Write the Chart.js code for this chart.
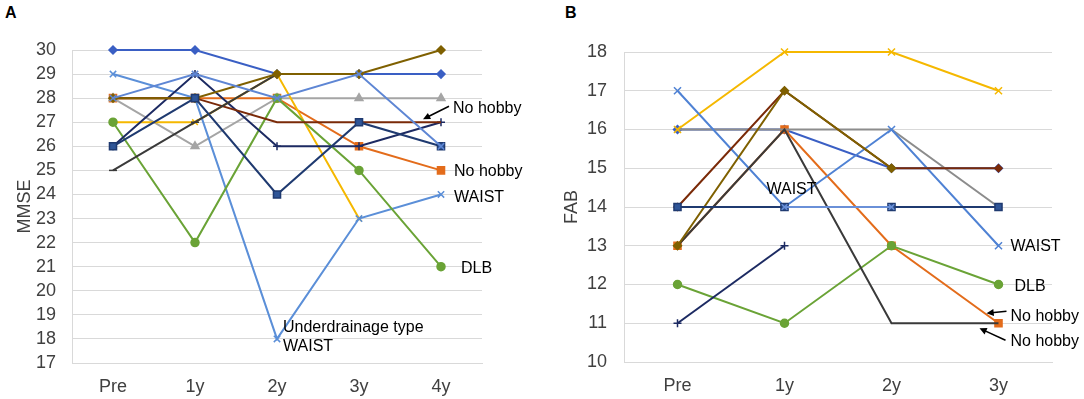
<!DOCTYPE html>
<html>
<head>
<meta charset="utf-8">
<script src="https://cdn.jsdelivr.net/npm/chart.js@4.4.1/dist/chart.umd.min.js"></script>
<style>
  body { margin: 0; background: #fff; }
  #wrap { position: relative; width: 1084px; height: 399px; font-family: 'Liberation Sans', Arial, sans-serif; }
  canvas { position: absolute; top: 0; }
  .tag { position: absolute; top: 4px; font-weight: bold; font-size: 16px; color: #000; }
</style>
</head>
<body>
<div id="wrap">
  <div class="tag" style="left:5px">A</div>
  <div class="tag" style="left:565px">B</div>
  <canvas id="mmse" width="540" height="399" style="left:0"></canvas>
  <canvas id="fab" width="544" height="399" style="left:540px"></canvas>
</div>
<script>
// panel A - MMSE
const mmseLabels = ['Pre', '1y', '2y', '3y', '4y'];
const mmseBlueDiamond = [30, 30, 29, 29, 29];
const mmseOrangeSquare = [28, 28, 28, 26, 25];
const mmseGrayTriangle = [28, 26, 28, 28, 28];
const mmseYellowX = [27, 27, 29, 23, null];
const mmseLightBlueX = [29, 28, 18, 23, 24];
const mmseGreenCircle = [27, 22, 28, 25, 21];
const mmseNavyPlus = [26, 29, 26, 26, 27];
const mmseBrown = [28, 28, 27, 27, 27];
const mmseDarkGray = [25, 27, 29, null, null];
const mmseOliveDiamond = [28, 28, 29, 29, 30];
const mmseDarkBlueSquare = [26, 28, 24, 27, 26];
const mmseBlueX = [28, 29, 28, 29, 26];
const mmseTicks = { min: 17, max: 30 };

// panel B - FAB
const fabLabels = ['Pre', '1y', '2y', '3y'];
const fabBlueDiamond = [16, 16, 15, 15];
const fabOrangeSquare = [13, 16, 13, 11];
const fabGray = [16, 16, 16, 14];
const fabYellowX = [16, 18, 18, 17];
const fabBlueX = [17, 14, 16, 13];
const fabGreenCircle = [12, 11, 13, 12];
const fabNavyPlus = [11, 13, null, null];
const fabBrown = [14, 17, 15, 15];
const fabDarkGray = [13, 16, 11, 11];
const fabOliveDiamond = [13, 17, 15, null];
const fabDarkBlueSquare = [14, 14, 14, 14];
const fabLightBlueX = [null, 14, 14, null];
const fabTicks = { min: 10, max: 18 };

const FONT = "'Liberation Sans', Arial, sans-serif";

const series = (data, color, style, radius, fill) => ({
  data,
  borderColor: color,
  backgroundColor: fill || color,
  pointBorderColor: color,
  pointBackgroundColor: fill || color,
  pointStyle: style,
  pointRadius: style ? radius : 0,
  pointBorderWidth: 1.5,
  borderWidth: 2,
  tension: 0,
  spanGaps: false,
  clip: false
});

// notes are anchored on a data point [index, value] and shifted by a few pixels
const notesPlugin = (notes) => ({
  id: 'notes',
  afterDatasetsDraw(chart) {
    const { ctx, scales: { x, y } } = chart;
    ctx.save();
    ctx.font = `16px ${FONT}`;
    ctx.fillStyle = '#000';
    ctx.strokeStyle = '#000';
    ctx.lineWidth = 1.5;
    notes.forEach((n) => {
      const px = x.getPixelForValue(n.at[0]);
      const py = y.getPixelForValue(n.at[1]);
      ctx.textAlign = n.align || 'left';
      ctx.textBaseline = 'middle';
      ctx.fillText(n.text, px + n.dx, py + n.dy);
      if (n.arrow) {
        const [x1, y1, x2, y2] = [px + n.arrow[0], py + n.arrow[1], px + n.arrow[2], py + n.arrow[3]];
        const ang = Math.atan2(y2 - y1, x2 - x1);
        ctx.beginPath();
        ctx.moveTo(x1, y1);
        ctx.lineTo(x2 - 5 * Math.cos(ang), y2 - 5 * Math.sin(ang));
        ctx.stroke();
        ctx.beginPath();
        ctx.moveTo(x2, y2);
        ctx.lineTo(x2 - 8 * Math.cos(ang - 0.45), y2 - 8 * Math.sin(ang - 0.45));
        ctx.lineTo(x2 - 8 * Math.cos(ang + 0.45), y2 - 8 * Math.sin(ang + 0.45));
        ctx.closePath();
        ctx.fill();
      }
    });
    ctx.restore();
  }
});

const buildChart = (id, labels, datasets, ticks, title, geo, notes) => {
  // Excel puts the first series at the bottom, Chart.js puts it on top
  const ordered = datasets.map((d, i) => ({ ...d, order: datasets.length - i }));
  // eslint-disable-next-line no-new
  new Chart(document.getElementById(id), {
    type: 'line',
    data: { labels, datasets: ordered },
    plugins: [notesPlugin(notes)],
    options: {
      responsive: false,
      animation: false,
      layout: { padding: { top: geo.top, right: geo.right, left: 0, bottom: 0 } },
      plugins: { legend: { display: false }, tooltip: { enabled: false } },
      scales: {
        x: {
          offset: true,
          grid: { display: false, drawTicks: false },
          border: { display: true, color: '#d9d9d9' },
          ticks: { color: '#404040', font: { family: FONT, size: 18 }, padding: 13 },
          afterFit(scale) { scale.height = geo.xHeight; }
        },
        y: {
          min: ticks.min,
          max: ticks.max,
          grid: { color: '#d9d9d9', drawTicks: false },
          border: { display: true, color: '#d9d9d9' },
          ticks: {
            stepSize: 1,
            autoSkip: false,
            color: '#404040',
            font: { family: FONT, size: 18 },
            padding: geo.tickPad
          },
          title: {
            display: true,
            text: title,
            color: '#404040',
            font: { family: FONT, size: 18 },
            padding: { top: geo.titlePad, bottom: 0 }
          },
          afterFit(scale) { scale.width = geo.yWidth; }
        }
      }
    }
  });
};

buildChart('mmse', mmseLabels, [
  series(mmseBlueDiamond, '#3A5FC4', 'rectRot', 4),
  series(mmseOrangeSquare, '#E36C1B', 'rect', 5),
  series(mmseGrayTriangle, '#A5A5A5', 'triangle', 4.5),
  series(mmseYellowX, '#F5B800', 'crossRot', 4),
  series(mmseLightBlueX, '#5B8FD8', 'crossRot', 4.5),
  series(mmseGreenCircle, '#6AA336', 'circle', 4),
  series(mmseNavyPlus, '#1C2A62', 'cross', 4),
  series(mmseBrown, '#7A2A08', false, 0),
  series(mmseDarkGray, '#3A3A3A', 'line', 4),
  series(mmseOliveDiamond, '#7F6000', 'rectRot', 4),
  series(mmseDarkBlueSquare, '#1F3A70', 'rect', 5, '#2F5597'),
  series(mmseBlueX, '#5E86D4', 'crossRot', 4.5)
], mmseTicks, 'MMSE',
{ top: 50, right: 58, xHeight: 36, yWidth: 72, tickPad: 16, titlePad: 14 },
[
  { at: [4, 27], text: 'No hobby', dx: 12, dy: -14, arrow: [8, -16, -18, -3] },
  { at: [4, 25], text: 'No hobby', dx: 13, dy: 1 },
  { at: [4, 24], text: 'WAIST', dx: 13, dy: 3 },
  { at: [4, 21], text: 'DLB', dx: 20, dy: 2 },
  { at: [2, 18], text: 'Underdrainage type', dx: 6, dy: -11 },
  { at: [2, 18], text: 'WAIST', dx: 6, dy: 8 }
]);

buildChart('fab', fabLabels, [
  series(fabBlueDiamond, '#3A5FC4', 'rectRot', 4),
  series(fabOrangeSquare, '#E36C1B', 'rect', 5),
  series(fabGray, '#8C8C8C', false, 0),
  series(fabYellowX, '#F5B800', 'crossRot', 5),
  series(fabBlueX, '#4F82D4', 'crossRot', 5),
  series(fabGreenCircle, '#6AA336', 'circle', 4),
  series(fabNavyPlus, '#1C2A62', 'cross', 4),
  series(fabBrown, '#7A2A08', 'rectRot', 3.5),
  series(fabDarkGray, '#3A3A3A', false, 0),
  series(fabOliveDiamond, '#7F6000', 'rectRot', 4),
  series(fabDarkBlueSquare, '#1F3A70', 'rect', 5, '#2F5597'),
  series(fabLightBlueX, '#6A90D8', 'crossRot', 4)
], fabTicks, 'FAB',
{ top: 52, right: 32, xHeight: 37, yWidth: 84, tickPad: 17, titlePad: 21 },
[
  { at: [1, 14], text: 'WAIST', dx: 7, dy: -17, align: 'center' },
  { at: [3, 13], text: 'WAIST', dx: 12, dy: 1 },
  { at: [3, 12], text: 'DLB', dx: 16, dy: 2 },
  { at: [3, 11], text: 'No hobby', dx: 12, dy: -7, arrow: [8, -12, -12, -10] },
  { at: [3, 11], text: 'No hobby', dx: 12, dy: 18, arrow: [7, 17, -19, 5] }
]);
</script>
</body>
</html>
